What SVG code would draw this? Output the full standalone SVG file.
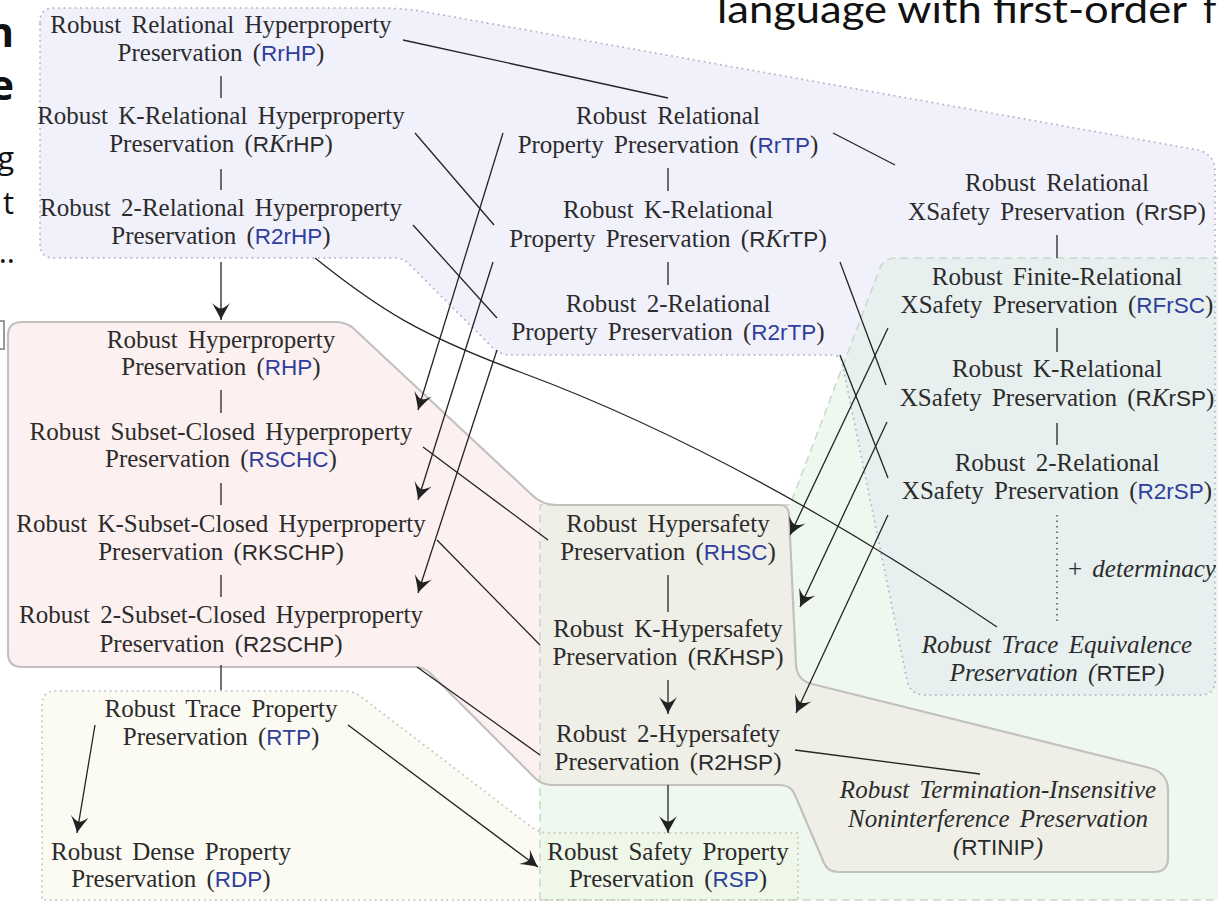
<svg xmlns="http://www.w3.org/2000/svg" width="1218" height="902" viewBox="0 0 1218 902">
  <style>
    .lbl { font-family: "Liberation Serif", "Times New Roman", serif; font-size: 25px; fill: #2b2b2b; text-anchor: middle; word-spacing: 4px; }
    .sf { font-family: "Liberation Sans", Arial, sans-serif; font-size: 22.5px; font-style: normal; }
    .ab { fill: #2f3e9c; }
    .it { font-style: italic; }
    .kk { font-style: italic; }
    .conn line, .conn path { stroke: #242424; stroke-width: 1.3; fill: none; }
    .conn .arr { marker-end: url(#ah); }
    .conn .dots { stroke-dasharray: 1.5 4; stroke-width: 1.2; }
    .dotted { fill: none; stroke-width: 2; stroke-linecap: round; stroke-dasharray: 0.01 5.5; }
    .slide { font-family: "Open Sans", "Liberation Sans", sans-serif; fill: #111; }
  </style>
  <defs>
    <marker id="ah" viewBox="-19 -10 21 20" refX="0" refY="0" markerWidth="21" markerHeight="20" markerUnits="userSpaceOnUse" orient="auto">
      <path d="M0,0 C-5,-2 -11,-5.5 -17,-9 C-13,-4.5 -11.5,-2 -11.5,0 C-11.5,2 -13,4.5 -17,9 C-11,5.5 -5,2 0,0 Z" fill="#222"/>
    </marker>
    <path id="reg-green" d="M540,900 L540,505 L790,505 L880,268 Q884,258 895,258 L1230,258 L1230,900 Z"/>
    <path id="reg-lav" d="M40,22 Q40,8 54,8 L380,8 Q400,8 420,11 L1198,150 Q1215,154 1215,172 L1215,680 Q1215,695 1200,695 L925,695 Q910,695 907,680 L842,362 Q840,355 832,355 L510,355 Q500,355 493,348 L410,265 Q404,258 395,258 L54,258 Q40,258 40,244 Z"/>
    <path id="reg-pink" d="M8,336 Q8,322 22,322 L335,322 Q345,322 352,327 L532,495 Q542,505 556,505 L780,505 Q788,505 789,514 L796,665 Q797,680 812,684 L1150,768 Q1168,773 1168,790 L1168,858 Q1168,872 1154,872 L838,872 Q828,872 824,863 L795,795 Q791,785 780,785 L552,785 Q542,785 535,778 L430,673 Q424,667 414,667 L22,667 Q8,667 8,653 Z"/>
    <path id="reg-yel" d="M42,705 Q42,691 56,691 L345,691 Q353,691 360,696 L530,826 Q539,833 550,833 L798,833 L798,900 L42,900 Z"/>
    <clipPath id="clip-green"><use href="#reg-green"/></clipPath>
  </defs>

  <!-- background fills of the property classes -->
  <g id="regions">
    <use href="#reg-green" fill="#eff8ef"/>
    <use href="#reg-lav" fill="#f1f1fc"/>
    <use href="#reg-pink" fill="#fcf1f0"/>
    <use href="#reg-yel" fill="#fbfbf3"/>
    <g clip-path="url(#clip-green)">
      <use href="#reg-lav" fill="#e7efef"/>
      <use href="#reg-pink" fill="#efefe8"/>
      <use href="#reg-yel" fill="#eef7e8"/>
    </g>
    <use href="#reg-green" fill="none" stroke="#c9d8c9" stroke-width="1.5" stroke-dasharray="8 5"/>
    <use href="#reg-lav" class="dotted" stroke="#b6b6ca"/>
    <use href="#reg-yel" class="dotted" stroke="#c6c6ba"/>
    <use href="#reg-pink" fill="none" stroke="#c3c1c0" stroke-width="2.2"/>
  </g>

  <!-- slide text around the figure -->
  <g id="slide">
    <text class="slide" x="14" y="47" font-size="42" font-weight="bold" text-anchor="end">n</text>
    <text class="slide" x="14" y="100" font-size="42" font-weight="bold" text-anchor="end">e</text>
    <text class="slide" x="14" y="169" font-size="31" text-anchor="end">g</text>
    <text class="slide" x="14" y="214" font-size="31" text-anchor="end">t</text>
    <text class="slide" x="15" y="263" font-size="31" text-anchor="end">..</text>
    <path d="M0,321 L4,321 L4,349 L0,349" fill="none" stroke="#9a9a9a" stroke-width="2"/>
    <text x="717" y="23" font-family="Lato, 'Open Sans', sans-serif" font-size="38" fill="#111" textLength="470" lengthAdjust="spacingAndGlyphs">language with first-order</text>
    <text x="1203" y="23" font-family="Lato, 'Open Sans', sans-serif" font-size="38" fill="#111">f</text>
  </g>

  <!-- connectors -->
  <g class="conn" id="connectors">
    <line x1="221" y1="76" x2="221" y2="98"/>
    <line x1="221" y1="169" x2="221" y2="190"/>
    <line x1="668" y1="168" x2="668" y2="191"/>
    <line x1="668" y1="262" x2="668" y2="285"/>
    <line x1="1057" y1="235" x2="1057" y2="258"/>
    <line x1="1057" y1="328" x2="1057" y2="352"/>
    <line x1="1057" y1="423" x2="1057" y2="445"/>
    <line class="dots" x1="1057" y1="515" x2="1057" y2="623"/>
    <line x1="221" y1="390" x2="221" y2="413"/>
    <line x1="221" y1="483" x2="221" y2="505"/>
    <line x1="221" y1="575" x2="221" y2="597"/>
    <line x1="221" y1="665" x2="221" y2="690"/>
    <line x1="668" y1="575" x2="668" y2="612"/>
    <line x1="403" y1="40" x2="668" y2="98"/>
    <line x1="833" y1="133" x2="895" y2="165"/>
    <line x1="415" y1="133" x2="494" y2="225"/>
    <line x1="413" y1="225" x2="497" y2="318"/>
    <line x1="840" y1="262" x2="886" y2="385"/>
    <line x1="840" y1="355" x2="888" y2="478"/>
    <line x1="423" y1="447" x2="548" y2="540"/>
    <line x1="437" y1="540" x2="540" y2="645"/>
    <line x1="417" y1="667" x2="540" y2="755"/>
    <line x1="795" y1="750" x2="980" y2="774"/>
    <path d="M315,258 C380,310 420,335 520,372 S780,480 997,627"/>
    <line class="arr" x1="221" y1="262" x2="221" y2="320"/>
    <line class="arr" x1="503" y1="133" x2="418" y2="410"/>
    <line class="arr" x1="493" y1="262" x2="418" y2="500"/>
    <line class="arr" x1="497" y1="350" x2="418" y2="593"/>
    <line class="arr" x1="888" y1="328" x2="790" y2="535"/>
    <line class="arr" x1="887" y1="422" x2="800" y2="607"/>
    <line class="arr" x1="888" y1="515" x2="796" y2="713"/>
    <line class="arr" x1="668" y1="680" x2="668" y2="714"/>
    <line class="arr" x1="668" y1="785" x2="668" y2="833"/>
    <line class="arr" x1="348" y1="725" x2="538" y2="867"/>
    <line class="arr" x1="95" y1="725" x2="77" y2="833"/>
  </g>

  <!-- nodes -->
  <g id="n-rrhp"><text class="lbl" x="221" y="33">Robust Relational Hyperproperty</text><text class="lbl" x="221" y="61">Preservation (<tspan class="sf ab">RrHP</tspan>)</text></g>
  <g id="n-rkrhp"><text class="lbl" x="221" y="124">Robust K-Relational Hyperproperty</text><text class="lbl" x="221" y="152">Preservation (<tspan class="sf">R</tspan><tspan class="kk">K</tspan><tspan class="sf">rHP</tspan>)</text></g>
  <g id="n-r2rhp"><text class="lbl" x="221" y="216">Robust 2-Relational Hyperproperty</text><text class="lbl" x="221" y="244">Preservation (<tspan class="sf ab">R2rHP</tspan>)</text></g>

  <g id="n-rrtp"><text class="lbl" x="668" y="124">Robust Relational</text><text class="lbl" x="668" y="153">Property Preservation (<tspan class="sf ab">RrTP</tspan>)</text></g>
  <g id="n-rkrtp"><text class="lbl" x="668" y="218">Robust K-Relational</text><text class="lbl" x="668" y="247">Property Preservation (<tspan class="sf">R</tspan><tspan class="kk">K</tspan><tspan class="sf">rTP</tspan>)</text></g>
  <g id="n-r2rtp"><text class="lbl" x="668" y="312">Robust 2-Relational</text><text class="lbl" x="668" y="340">Property Preservation (<tspan class="sf ab">R2rTP</tspan>)</text></g>

  <g id="n-rrsp"><text class="lbl" x="1057" y="191">Robust Relational</text><text class="lbl" x="1057" y="220">XSafety Preservation (<tspan class="sf">RrSP</tspan>)</text></g>
  <g id="n-rfrsc"><text class="lbl" x="1057" y="285">Robust Finite-Relational</text><text class="lbl" x="1057" y="313">XSafety Preservation (<tspan class="sf ab">RFrSC</tspan>)</text></g>
  <g id="n-rkrsp"><text class="lbl" x="1057" y="377">Robust K-Relational</text><text class="lbl" x="1057" y="406">XSafety Preservation (<tspan class="sf">R</tspan><tspan class="kk">K</tspan><tspan class="sf">rSP</tspan>)</text></g>
  <g id="n-r2rsp"><text class="lbl" x="1057" y="471">Robust 2-Relational</text><text class="lbl" x="1057" y="499">XSafety Preservation (<tspan class="sf ab">R2rSP</tspan>)</text></g>
  <g id="n-determinacy"><text class="lbl" x="1068" y="577" style="text-anchor:start">+ <tspan class="it">determinacy</tspan></text></g>
  <g id="n-rtep"><text class="lbl it" x="1057" y="653">Robust Trace Equivalence</text><text class="lbl it" x="1057" y="681">Preservation (<tspan class="sf">RTEP</tspan>)</text></g>

  <g id="n-rhp"><text class="lbl" x="221" y="348">Robust Hyperproperty</text><text class="lbl" x="221" y="375">Preservation (<tspan class="sf ab">RHP</tspan>)</text></g>
  <g id="n-rschc"><text class="lbl" x="221" y="440">Robust Subset-Closed Hyperproperty</text><text class="lbl" x="221" y="467">Preservation (<tspan class="sf ab">RSCHC</tspan>)</text></g>
  <g id="n-rkschp"><text class="lbl" x="221" y="532">Robust K-Subset-Closed Hyperproperty</text><text class="lbl" x="221" y="560">Preservation (<tspan class="sf">RKSCHP</tspan>)</text></g>
  <g id="n-r2schp"><text class="lbl" x="221" y="623">Robust 2-Subset-Closed Hyperproperty</text><text class="lbl" x="221" y="652">Preservation (<tspan class="sf">R2SCHP</tspan>)</text></g>

  <g id="n-rtp"><text class="lbl" x="221" y="717">Robust Trace Property</text><text class="lbl" x="221" y="745">Preservation (<tspan class="sf ab">RTP</tspan>)</text></g>
  <g id="n-rdp"><text class="lbl" x="171" y="860">Robust Dense Property</text><text class="lbl" x="171" y="887">Preservation (<tspan class="sf ab">RDP</tspan>)</text></g>

  <g id="n-rhsc"><text class="lbl" x="668" y="532">Robust Hypersafety</text><text class="lbl" x="668" y="560">Preservation (<tspan class="sf ab">RHSC</tspan>)</text></g>
  <g id="n-rkhsp"><text class="lbl" x="668" y="637">Robust K-Hypersafety</text><text class="lbl" x="668" y="665">Preservation (<tspan class="sf">R</tspan><tspan class="kk">K</tspan><tspan class="sf">HSP</tspan>)</text></g>
  <g id="n-r2hsp"><text class="lbl" x="668" y="742">Robust 2-Hypersafety</text><text class="lbl" x="668" y="770">Preservation (<tspan class="sf">R2HSP</tspan>)</text></g>
  <g id="n-rtinip"><text class="lbl it" x="998" y="798">Robust Termination-Insensitive</text><text class="lbl it" x="998" y="827">Noninterference Preservation</text><text class="lbl it" x="998" y="855">(<tspan class="sf">RTINIP</tspan>)</text></g>

  <g id="n-rsp"><text class="lbl" x="668" y="860">Robust Safety Property</text><text class="lbl" x="668" y="887">Preservation (<tspan class="sf ab">RSP</tspan>)</text></g>
</svg>
